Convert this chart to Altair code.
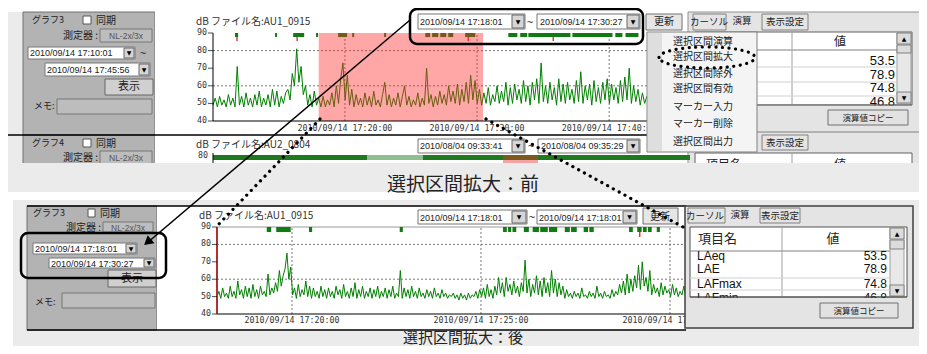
import altair as alt
import pandas as pd

# ---------------- data ----------------
top_start = "17:10:01"
top_step_s = 10
top_values = [
    49, 53, 48, 54, 49, 52, 48, 55, 49, 53,
    48, 71, 49, 54, 48, 56, 49, 53, 48, 55,
    49, 57, 48, 53, 49, 55, 48, 58, 49, 57,
    48, 54, 50, 56, 58, 52, 67, 60, 81, 62,
    71, 55, 60, 49, 55, 48, 57, 49, 53, 48,
    54, 48, 52, 49, 56, 48, 60, 50, 64, 73,
    52, 66, 49, 58, 48, 55, 49, 53, 48, 56,
    49, 54, 48, 57, 49, 52, 48, 55, 62, 49,
    55, 48, 53, 49, 56, 48, 54, 60, 49, 54,
    48, 52, 49, 56, 48, 53, 49, 70, 50, 55,
    48, 54, 49, 57, 50, 55, 49, 60, 51, 57,
    50, 61, 49, 58, 51, 62, 50, 66, 52, 63,
    50, 58, 49, 56, 50, 59, 49, 55, 51, 60,
    50, 57, 51, 62, 49, 59, 50, 61, 52, 58,
    50, 63, 51, 60, 49, 62, 52, 64, 50, 73,
    51, 60, 50, 62, 52, 59, 49, 64, 51, 61,
    50, 62, 52, 58, 50, 63, 51, 68, 50, 60,
    52, 61, 49, 63, 51, 59, 50, 62, 52, 64,
    50, 61, 52, 59, 50, 63, 51, 65, 52, 70,
    50, 60, 51, 58, 49, 56, 50, 54, 49, 55,
    48, 53, 49, 55, 48, 52, 49, 54, 48, 53,
    49, 52, 48, 53, 49, 51,
]
bottom_start = "17:18:01"
bottom_step_s = 3
bottom_values = [
    50, 53, 49, 55, 50, 52, 49, 56, 50, 53,
    49, 59, 51, 54, 49, 56, 50, 55, 49, 57,
    50, 54, 49, 56, 51, 53, 50, 63, 51, 55,
    52, 58, 53, 65, 56, 62, 66, 75, 60, 67,
    51, 55, 49, 57, 50, 54, 51, 59, 50, 56,
    49, 55, 50, 53, 49, 56, 50, 54, 49, 55,
    50, 53, 49, 56, 51, 54, 49, 57, 50, 53,
    49, 55, 50, 58, 49, 54, 50, 56, 49, 53,
    50, 55, 49, 54, 50, 56, 49, 53, 50, 55,
    49, 54, 50, 56, 49, 52, 50, 65, 49, 55,
    50, 54, 49, 56, 50, 53, 49, 55, 50, 52,
    49, 54, 50, 53, 49, 55, 50, 52, 49, 54,
    50, 52, 49, 51, 50, 52, 49, 51, 48, 52,
    49, 51, 48, 52, 49, 51, 50, 53, 49, 54,
    50, 55, 49, 57, 50, 54, 49, 56, 51, 61,
    52, 58, 50, 61, 53, 57, 51, 59, 52, 56,
    50, 58, 53, 71, 52, 60, 50, 57, 52, 62,
    51, 59, 50, 61, 52, 58, 50, 65, 52, 60,
    50, 58, 51, 56, 49, 54, 50, 52, 49, 53,
    50, 52, 49, 55, 50, 51, 49, 53, 50, 52,
    49, 56, 50, 52, 49, 53, 50, 51, 49, 54,
    50, 53, 51, 57, 52, 59, 51, 63, 52, 60,
    53, 62, 55, 68, 54, 70, 56, 61, 53, 65,
    51, 57, 52, 55, 50, 58, 51, 56, 52, 54,
    50, 57, 51, 55, 50, 53, 51, 56, 50,
]

top_marker_start = ["17:11:41", "17:14:43", "17:16:05", "17:17:49", "17:19:29", "17:20:33",
                    "17:22:58", "17:26:05", "17:26:36", "17:27:13", "17:27:49", "17:29:06",
                    "17:32:22", "17:33:16", "17:33:53", "17:37:13", "17:40:28", "17:41:14"]
top_marker_end = ["17:11:55", "17:14:52", "17:16:55", "17:17:58", "17:20:10", "17:20:42",
                  "17:23:07", "17:26:27", "17:27:04", "17:27:40", "17:28:12", "17:29:52",
                  "17:33:03", "17:33:48", "17:37:04", "17:40:15", "17:41:00", "17:42:13"]
top_red_ticks = ["17:11:50", "17:16:23", "17:29:20", "17:35:46"]

bottom_marker_start = ["17:19:20", "17:19:35", "17:20:27", "17:22:51", "17:25:35", "17:25:43",
                       "17:25:50", "17:26:08", "17:26:22", "17:26:34", "17:26:48", "17:27:13",
                       "17:27:23", "17:27:43", "17:27:52", "17:28:55", "17:29:08", "17:29:17",
                       "17:29:25", "17:29:39"]
bottom_marker_end = ["17:19:27", "17:19:58", "17:20:32", "17:22:56", "17:25:41", "17:25:48",
                     "17:25:56", "17:26:16", "17:26:32", "17:26:46", "17:27:01", "17:27:21",
                     "17:27:32", "17:27:50", "17:27:59", "17:29:01", "17:29:15", "17:29:23",
                     "17:29:31", "17:29:44"]
bottom_red_ticks = ["17:29:12"]

selection = ("17:18:01", "17:30:27")
top_window = ("17:10:01", "17:46:07")
bottom_window = ("17:18:01", "17:30:27")

top_time_ticks = ["17:20:00", "17:30:00", "17:40:00"]
bottom_time_ticks = ["17:20:00", "17:25:00", "17:30:00"]
db_ticks = [40, 50, 60, 70, 80, 90]
top_db_grid = [60, 80]
bottom_db_grid = [60, 80]

menu_items = ["選択区間演算", "選択区間拡大", "選択区間除外", "選択区間有効",
              "マーカー入力", "マーカー削除", "選択区間出力"]
stat_names = ["LAeq", "LAE", "LAFmax", "LAFmin"]
stat_values = [53.5, 78.9, 74.8, 46.8]
captions = ["選択区間拡大：前", "選択区間拡大：後"]

# ---------------- helpers ----------------
EPOCH = pd.Timestamp("1970-01-01")


def ms(hms):
    return int((pd.Timestamp("2010-09-14 " + hms) - EPOCH) / pd.Timedelta(milliseconds=1))


def tlabel(hms):
    return "2010/09/14 " + hms


J = "Noto Sans CJK JP"
L = "Liberation Sans"
D = "DejaVu Sans"
M = "DejaVu Sans Mono"

CW, CH = 911, 338
PX = alt.Scale(domain=[8, 8 + CW], range=[0, CW], nice=False, zero=False)
PY = alt.Scale(domain=[8, 8 + CH], range=[0, CH], nice=False, zero=False)


def px(f):
    return alt.X(f + ":Q", scale=PX, axis=None)


def py(f):
    return alt.Y(f + ":Q", scale=PY, axis=None)


def rect_layer(rows, corner=0):
    df = pd.DataFrame(rows, columns=["a", "b", "c", "d", "fill", "stroke", "sw"])
    return alt.Chart(df).mark_rect(cornerRadius=corner).encode(
        x=px("a"), x2=alt.X2("b"), y=py("c"), y2=alt.Y2("d"),
        fill=alt.Fill("fill:N", scale=None),
        stroke=alt.Stroke("stroke:N", scale=None),
        strokeWidth=alt.StrokeWidth("sw:Q", scale=None),
    )


def line_layer(rows, dash=None, cap="butt"):
    df = pd.DataFrame(rows, columns=["a", "b", "c", "d", "color", "sw"])
    kw = dict(strokeCap=cap)
    if dash:
        kw["strokeDash"] = dash
    return alt.Chart(df).mark_rule(**kw).encode(
        x=px("a"), x2=alt.X2("b"), y=py("c"), y2=alt.Y2("d"),
        color=alt.Color("color:N", scale=None),
        strokeWidth=alt.StrokeWidth("sw:Q", scale=None),
    )


def text_layers(rows, baseline="middle"):
    df = pd.DataFrame(rows, columns=["txt", "x", "y", "size", "color", "font", "align"])
    out = []
    for (font, align), g in df.groupby(["font", "align"], sort=False):
        out.append(alt.Chart(g.drop(columns=["font", "align"])).mark_text(
            align=align, baseline=baseline, font=font).encode(
            x=px("x"), y=py("y"), text="txt:N",
            size=alt.Size("size:Q", scale=None),
            color=alt.Color("color:N", scale=None)))
    return out


def ts_layers(values, start, step_s, window, x_range, y_range, grid_db, time_ticks,
              mk_s, mk_e, mk_lo, reds, red_lo, red_hi, sel=None, left_red=False, label_dy=8):
    lo, hi = ms(window[0]), ms(window[1])
    X = alt.Scale(type="utc", domain=[lo, hi], range=x_range, nice=False)
    Y = alt.Scale(domain=[40, 90], range=y_range, nice=False, zero=False)

    def ex(f):
        return alt.X(f + ":T", scale=X, axis=None)

    def ey(f):
        return alt.Y(f + ":Q", scale=Y, axis=None)

    t0 = ms(start)
    line_df = pd.DataFrame({"t": [t0 + i * step_s * 1000 for i in range(len(values))], "v": values})
    gh = pd.DataFrame({"a": [lo] * len(grid_db), "b": [hi] * len(grid_db), "v": grid_db})
    gv = pd.DataFrame({"t": [ms(s) for s in time_ticks], "lo": 40, "hi": 90})
    mk = pd.DataFrame({"a": [ms(s) for s in mk_s], "b": [ms(s) for s in mk_e], "lo": mk_lo, "hi": 90})
    rd = pd.DataFrame({"t": [ms(s) for s in reds], "lo": red_lo, "hi": red_hi})
    layers = [
        alt.Chart(gh).mark_rule(color="#555555", strokeDash=[2, 2], strokeWidth=0.8).encode(
            x=ex("a"), x2=alt.X2("b"), y=ey("v")),
        alt.Chart(gv).mark_rule(color="#555555", strokeDash=[2, 2], strokeWidth=0.8).encode(
            x=ex("t"), y=ey("lo"), y2=alt.Y2("hi")),
        alt.Chart(line_df).mark_line(color="#008000", strokeWidth=1).encode(x=ex("t"), y=ey("v")),
        alt.Chart(mk).mark_rect(color="#127a12").encode(
            x=ex("a"), x2=alt.X2("b"), y=ey("lo"), y2=alt.Y2("hi")),
        alt.Chart(rd).mark_rule(color="#e02020", strokeWidth=1.3).encode(
            x=ex("t"), y=ey("lo"), y2=alt.Y2("hi")),
    ]
    if sel:
        sd = pd.DataFrame({"a": [ms(sel[0])], "b": [ms(sel[1])], "lo": [40], "hi": [90]})
        layers.append(alt.Chart(sd).mark_rect(color="#ff2a2a", opacity=0.42).encode(
            x=ex("a"), x2=alt.X2("b"), y=ey("lo"), y2=alt.Y2("hi")))
    ax_b = pd.DataFrame({"a": [lo], "b": [hi], "v": [40]})
    ax_l = pd.DataFrame({"t": [lo], "lo": [40], "hi": [90]})
    layers.append(alt.Chart(ax_b).mark_rule(color="#000000", strokeWidth=1).encode(
        x=ex("a"), x2=alt.X2("b"), y=ey("v")))
    layers.append(alt.Chart(ax_l).mark_rule(color="#b03030" if left_red else "#000000",
                                            strokeWidth=2 if left_red else 1).encode(
        x=ex("t"), y=ey("lo"), y2=alt.Y2("hi")))
    yl = pd.DataFrame({"t": [lo] * len(db_ticks), "v": db_ticks, "txt": [str(v) for v in db_ticks]})
    layers.append(alt.Chart(yl).mark_tick(orient="horizontal", size=5, thickness=1,
                                          color="#000000", xOffset=-2.5).encode(x=ex("t"), y=ey("v")))
    layers.append(alt.Chart(yl).mark_text(align="right", baseline="middle", dx=-6, font=M,
                                          fontSize=8.3, color="#333333").encode(
        x=ex("t"), y=ey("v"), text="txt:N"))
    xl = pd.DataFrame({"t": [ms(s) for s in time_ticks], "v": 40,
                       "txt": [tlabel(s) for s in time_ticks]})
    layers.append(alt.Chart(xl).mark_text(align="center", baseline="middle", dy=label_dy, font=M,
                                          fontSize=8.3, color="#333333").encode(
        x=ex("t"), y=ey("v"), text="txt:N"))
    return alt.layer(*layers)


# ---------------- layout (pixel positions of the window furniture) ----------------
PANEL = "#b3b3b3"
PAGE = "#ebebeb"
RPANEL = "#e4e4e4"
W = "#ffffff"
T = "transparent"
BOX = "#777777"
BTN = "#d6d6d6"

back_rects = [
    # top screenshot
    (7, 927, 12, 192, PAGE, T, 0),
    (23, 155, 12, 135, PANEL, "#707070", 1),
    (23, 155, 135, 170, PANEL, "#707070", 1),
    (155, 690, 12, 170, W, T, 0),
    (688, 927, 12, 170, RPANEL, "#909090", 1),
    (83, 91, 16, 24, W, "#555555", 1),
    (100, 152, 29, 42, "#bdbdbd", BOX, 1),
    (28, 135, 47, 59, W, BOX, 1), (124, 134, 48, 58, BTN, "#666666", 1),
    (45, 150, 63, 76, W, BOX, 1), (139, 149, 64, 75, BTN, "#666666", 1),
    (105, 153, 79, 95, "#d0d0d0", "#666666", 1),
    (57, 152, 99, 114, "#bdbdbd", BOX, 1),
    (83, 91, 139, 147, W, "#555555", 1),
    (100, 152, 151, 168, "#bdbdbd", BOX, 1),
    (418, 525, 14, 29, W, BOX, 1), (512, 524, 15, 28, BTN, "#666666", 1),
    (537, 640, 14, 29, W, BOX, 1), (627, 639, 15, 28, BTN, "#666666", 1),
    (646, 682, 14, 30, "#e6e6e6", "#707070", 1),
    (418, 525, 139, 153, W, BOX, 1), (512, 524, 140, 152, BTN, "#666666", 1),
    (538, 640, 139, 153, W, BOX, 1), (627, 639, 140, 152, BTN, "#666666", 1),
    (213, 690, 155, 160, "#1f7a1f", T, 0),
    (367, 423, 155, 160, "#8fbf8f", T, 0),
    (503, 538, 155, 170, "#f4a3a3", T, 0),
    (503, 538, 155, 160, "#7a5a1e", T, 0),
    (693, 726, 14, 30, RPANEL, "#808080", 1),
    (762, 808, 14, 30, RPANEL, "#808080", 1),
    (695, 912, 32, 105, W, "#606060", 1),
    (897, 911, 33, 104, "#e8e8e8", "#a0a0a0", 1),
    (897, 911, 33, 44, "#dcdcdc", "#808080", 1),
    (897, 911, 45, 53, "#dcdcdc", "#808080", 1),
    (897, 911, 92, 103, "#dcdcdc", "#808080", 1),
    (828, 908, 110, 125, "#e2e2e2", "#707070", 1),
    (762, 808, 135, 150, RPANEL, "#808080", 1),
    (695, 912, 153, 175, W, "#606060", 1),
    # bottom screenshot
    (13, 927, 200, 354, PAGE, T, 0),
    (27, 157, 206, 330, PANEL, "#707070", 1),
    (157, 686, 206, 330, W, T, 0),
    (88, 95, 209, 217, W, "#555555", 1),
    (103, 153, 222, 232, "#bdbdbd", BOX, 1),
    (33, 137, 243, 254, W, BOX, 1), (126, 136, 244, 253, BTN, "#666666", 1),
    (49, 155, 258, 268, W, BOX, 1), (144, 154, 259, 267, BTN, "#666666", 1),
    (108, 156, 270, 287, "#d0d0d0", "#666666", 1),
    (62, 155, 293, 308, "#bdbdbd", BOX, 1),
    (418, 527, 210, 224, W, BOX, 1), (512, 526, 211, 223, BTN, "#666666", 1),
    (537, 637, 210, 224, W, BOX, 1), (623, 636, 211, 223, BTN, "#666666", 1),
    (643, 678, 208, 224, "#e6e6e6", "#707070", 1),
]
back_lines = [
    (8, 690, 135, 135, "#000000", 1.5),
    (695, 897, 50, 50, "#808080", 1),
    (792, 792, 32, 105, "#a0a0a0", 1),
    (695, 897, 67, 67, "#d0d0d0", 1), (695, 897, 82, 82, "#d0d0d0", 1),
    (695, 897, 96, 96, "#d0d0d0", 1),
    (688, 927, 132, 132, "#808080", 1),
    (792, 792, 153, 170, "#a0a0a0", 1),
    (213, 213, 153, 168, "#000000", 1),
    (27, 686, 206, 206, "#000000", 1.5),
    (27, 686, 330, 330, "#000000", 1.5),
    (217, 687, 227, 227, "#999999", 1),
]
back_texts = [
    ("グラフ3", 32, 20, 9, "#222222", J, "left"),
    ("同期", 96, 20.5, 10, "#222222", J, "left"),
    ("測定器 :", 98, 35.5, 10, "#222222", J, "right"),
    ("NL-2x/3x", 126, 35.5, 8.5, "#555555", L, "center"),
    ("2010/09/14 17:10:01", 30, 53, 9, "#222222", L, "left"),
    ("▼", 129, 53, 6, "#000000", D, "center"),
    ("~", 143, 54, 11, "#222222", L, "center"),
    ("2010/09/14 17:45:56", 47, 69.5, 9, "#222222", L, "left"),
    ("▼", 144, 69.5, 6, "#000000", D, "center"),
    ("表示", 129, 87, 11, "#222222", J, "center"),
    ("メモ:", 34, 106, 9, "#222222", J, "left"),
    ("グラフ4", 32, 143, 9, "#222222", J, "left"),
    ("同期", 96, 143.5, 10, "#222222", J, "left"),
    ("測定器 :", 98, 158, 10, "#222222", J, "right"),
    ("NL-2x/3x", 126, 158, 8.5, "#555555", L, "center"),
    ("dB ファイル名:AU1_0915", 196, 21.5, 10, "#333333", J, "left"),
    ("2010/09/14 17:18:01", 420, 22, 9, "#222222", L, "left"),
    ("▼", 518, 21.5, 6, "#000000", D, "center"),
    ("~", 530, 23, 11, "#222222", L, "center"),
    ("2010/09/14 17:30:27", 540, 22, 9, "#222222", L, "left"),
    ("▼", 633, 21.5, 6, "#000000", D, "center"),
    ("更新", 664, 22, 10, "#222222", J, "center"),
    ("dB ファイル名:AU2_0804", 196, 145, 10, "#333333", J, "left"),
    ("80", 208, 155.5, 8.3, "#333333", M, "right"),
    ("2010/08/04 09:33:41", 420, 146, 9, "#222222", L, "left"),
    ("▼", 518, 146, 6, "#000000", D, "center"),
    ("~", 531, 147, 11, "#222222", L, "center"),
    ("2010/08/04 09:35:29", 541, 146, 9, "#222222", L, "left"),
    ("▼", 633, 146, 6, "#000000", D, "center"),
    ("カーソル", 709, 22, 9.5, "#222222", J, "center"),
    ("演算", 742, 21, 9.5, "#222222", J, "center"),
    ("表示設定", 785, 22, 9.5, "#222222", J, "center"),
    ("値", 840, 42, 12, "#222222", J, "center"),
    ("▲", 904, 38.5, 6, "#000000", D, "center"),
    ("▼", 904, 97.5, 6, "#000000", D, "center"),
    ("演算値コピー", 868, 118, 8.5, "#222222", J, "center"),
    ("表示設定", 785, 143, 9.5, "#222222", J, "center"),
    ("項目名", 706, 165, 12, "#222222", J, "left"),
    ("値", 840, 165, 12, "#222222", J, "center"),
    ("グラフ3", 33, 213, 9, "#222222", J, "left"),
    ("同期", 100, 213.5, 10, "#222222", J, "left"),
    ("測定器 :", 101, 227.5, 10, "#222222", J, "right"),
    ("NL-2x/3x", 128, 227.5, 8.5, "#555555", L, "center"),
    ("2010/09/14 17:18:01", 35, 249, 9, "#222222", L, "left"),
    ("▼", 131, 248.5, 6, "#000000", D, "center"),
    ("2010/09/14 17:30:27", 51, 263.5, 9, "#222222", L, "left"),
    ("▼", 149, 263, 6, "#000000", D, "center"),
    ("表示", 132, 279, 11, "#222222", J, "center"),
    ("メモ:", 35, 302, 9, "#222222", J, "left"),
    ("dB ファイル名:AU1_0915", 199, 216, 10, "#333333", J, "left"),
    ("2010/09/14 17:18:01", 420, 217.5, 9, "#222222", L, "left"),
    ("▼", 519, 217, 6, "#000000", D, "center"),
    ("~", 532, 218, 11, "#222222", L, "center"),
    ("2010/09/14 17:18:01", 539, 217.5, 9, "#222222", L, "left"),
    ("▼", 629.5, 217, 6, "#000000", D, "center"),
    ("更新", 660, 216.5, 10, "#222222", J, "center"),
]
top_value_y = [61, 74.5, 88, 101.5]
for v, yy in zip(stat_values, top_value_y):
    back_texts.append((f"{v:.1f}", 895, yy, 13, "#111111", L, "right"))
back_covers = [
    (694, 913, 105.5, 109, RPANEL, T, 0),
    (695, 912, 104.5, 105.5, "#606060", T, 0),
]

front_rects = [
    (685, 913, 206, 328, RPANEL, "#404040", 1.5),
    (688, 725, 208, 223, RPANEL, "#808080", 1),
    (760, 800, 208, 223, RPANEL, "#808080", 1),
    (690, 907, 227, 297, W, "#505050", 1),
    (890, 904, 228, 296, "#e8e8e8", "#a0a0a0", 1),
    (890, 904, 228, 239, "#dcdcdc", "#808080", 1),
    (890, 904, 240, 249, "#dcdcdc", "#808080", 1),
    (890, 904, 285, 296, "#dcdcdc", "#808080", 1),
    (820, 898, 303, 318, "#e2e2e2", "#707070", 1),
]
front_lines = [
    (690, 890, 251, 251, "#808080", 1),
    (782, 782, 227, 297, "#a0a0a0", 1),
    (690, 890, 278, 278, "#d0d0d0", 1),
    (690, 890, 290, 290, "#d0d0d0", 1),
]
front_texts = [
    ("カーソル", 705, 215.5, 9.5, "#222222", J, "center"),
    ("演算", 740, 215, 9.5, "#222222", J, "center"),
    ("表示設定", 780, 215.5, 9.5, "#222222", J, "center"),
    ("項目名", 698, 239, 13, "#222222", J, "left"),
    ("値", 833, 239, 13, "#222222", J, "center"),
    ("▲", 897, 233.5, 6, "#000000", D, "center"),
    ("▼", 897, 290.5, 6, "#000000", D, "center"),
    ("演算値コピー", 859, 311, 8.5, "#222222", J, "center"),
]
bottom_row_y = [256, 268.5, 284, 297.5]
for n, v, yy in zip(stat_names, stat_values, bottom_row_y):
    front_texts.append((n, 697, yy, 12, "#111111", L, "left"))
    front_texts.append((f"{v:.1f}", 887, yy, 12, "#111111", L, "right"))
front_covers = [
    (689, 908, 298, 302, RPANEL, T, 0),
    (690, 907, 296.5, 297.5, "#505050", T, 0),
]

menu_rects = [
    (647, 757, 32, 152, "#f4f4f4", "#808080", 1),
    (648, 662, 33, 151, "#dedede", T, 0),
]
menu_y = [42, 57, 74, 89, 107, 124, 142]
menu_texts = [(m, 673, yy, 10, "#222222", J, "left") for m, yy in zip(menu_items, menu_y)]

band_covers = [
    (7, 927, 163, 192, PAGE, T, 0),
    (7, 927, 192, 200, W, T, 0),
    (13, 927, 331, 354, PAGE, T, 0),
]
caption_top = [(captions[0], 463, 185, 19, "#222222", J, "center")]
caption_bottom = [(captions[1], 463, 346, 15, "#222222", J, "center")]

rounded_boxes = [
    (410, 643, 9, 44, T, "#000000", 2.5),
    (21, 166, 233, 278, T, "#000000", 2.5),
]
solid_arrows = [(410, 147, 20, 243, "#000000", 1.5)]
dotted_lines = [
    (320, 217, 119, 226, "#000000", 3.2),
    (486, 683, 119, 227, "#000000", 3.2),
]
arrow_head = pd.DataFrame({"x": [147.6], "y": [242.1]})
ellipse = pd.DataFrame({"x": [707], "y": [57.5]})
ELLIPSE_PATH = ("M -1 0 C -1 -0.1215 -0.5523 -0.22 0 -0.22 C 0.5523 -0.22 1 -0.1215 1 0 "
                "C 1 0.1215 0.5523 0.22 0 0.22 C -0.5523 0.22 -1 0.1215 -1 0 Z")

# ---------------- charts ----------------
top_chart = ts_layers(top_values, top_start, top_step_s, top_window, [205, 682], [113, 25],
                      top_db_grid, top_time_ticks, top_marker_start, top_marker_end, 87.7,
                      top_red_ticks, 85.4, 87.7, sel=selection, label_dy=8)
bottom_chart = ts_layers(bottom_values, bottom_start, bottom_step_s, bottom_window, [209, 679],
                         [306, 219], bottom_db_grid, bottom_time_ticks, bottom_marker_start,
                         bottom_marker_end, 87.1, bottom_red_ticks, 84.3, 87.1, left_red=True,
                         label_dy=7)

layers = []
layers.append(rect_layer(back_rects))
layers.append(line_layer(back_lines))
layers += text_layers(back_texts)
layers.append(rect_layer(back_covers))
layers.append(top_chart)
layers.append(bottom_chart)
layers.append(rect_layer(front_rects))
layers.append(line_layer(front_lines))
layers += text_layers(front_texts)
layers.append(rect_layer(front_covers))
layers.append(rect_layer(menu_rects))
layers += text_layers(menu_texts)
layers.append(rect_layer(band_covers))
layers += text_layers(caption_top)
layers += text_layers(caption_bottom, baseline="bottom")
layers.append(rect_layer(rounded_boxes, corner=7))
layers.append(line_layer(solid_arrows))
layers.append(line_layer(dotted_lines, dash=[0.1, 6.5], cap="round"))
layers.append(alt.Chart(arrow_head).mark_point(shape="triangle-up", filled=True, color="#000000",
                                               size=110, angle=230, opacity=1).encode(
    x=px("x"), y=py("y")))
layers.append(alt.Chart(ellipse).mark_point(shape=ELLIPSE_PATH, filled=False, color="#000000",
                                            size=96 * 96, strokeWidth=3.2, strokeDash=[0.1, 6.5],
                                            strokeCap="round", opacity=1).encode(
    x=px("x"), y=py("y")))

chart = alt.layer(*layers).resolve_scale(x="independent", y="independent").properties(
    width=CW, height=CH, padding=0, background="#ffffff",
    autosize=alt.AutoSizeParams(type="none"),
).configure_view(stroke=None)

chart.save("out.html", embed_options={"renderer": "svg", "actions": False})
